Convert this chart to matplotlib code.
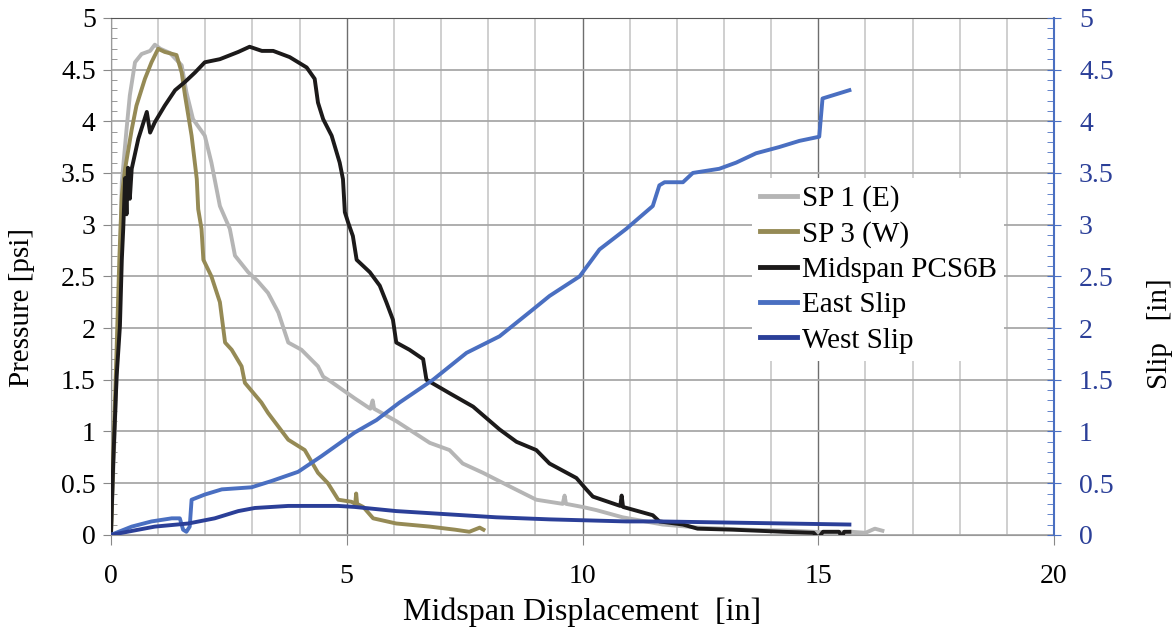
import matplotlib
matplotlib.use("Agg")
import matplotlib.pyplot as plt
from matplotlib.ticker import MultipleLocator, FuncFormatter
from matplotlib.lines import Line2D

plt.rcParams['font.family'] = ['Liberation Serif', 'DejaVu Serif']

# ---------------- data ----------------
sp1_x = [0, 0.08, 0.15, 0.19, 0.23, 0.33, 0.40, 0.51, 0.65, 0.83, 0.93, 1.05, 1.25, 1.50, 1.60, 1.74,
         1.99, 2.13, 2.31, 2.52, 2.63, 2.91, 3.10, 3.33, 3.55, 3.76, 4.04, 4.39, 4.50, 4.64, 5.17, 5.50,
         5.55, 5.58, 6.05, 6.76, 7.18, 7.46, 7.89, 8.45, 9.02, 9.58, 9.62, 9.65, 10.0, 10.29, 10.85,
         11.7, 12.48, 13.5, 14.5, 15.3, 15.7, 16.0, 16.2, 16.36]
sp1_y = [0, 1.0, 2.0, 2.6, 3.41, 3.92, 4.25, 4.57, 4.65, 4.68, 4.74, 4.70, 4.66, 4.54, 4.28, 4.02,
         3.86, 3.60, 3.18, 2.96, 2.70, 2.54, 2.46, 2.34, 2.15, 1.86, 1.79, 1.63, 1.53, 1.49, 1.32, 1.22,
         1.30, 1.22, 1.10, 0.89, 0.82, 0.69, 0.60, 0.47, 0.34, 0.30, 0.38, 0.30, 0.27, 0.24, 0.17,
         0.10, 0.07, 0.05, 0.04, 0.02, 0.03, 0.02, 0.06, 0.04]

sp3_x = [0, 0.05, 0.12, 0.18, 0.23, 0.30, 0.44, 0.54, 0.72, 0.86, 1.00, 1.14, 1.39, 1.50, 1.57, 1.71,
         1.82, 1.85, 1.92, 1.96, 2.13, 2.31, 2.42, 2.56, 2.77, 2.84, 3.19, 3.33, 3.76, 4.11, 4.39, 4.60,
         4.82, 5.10, 5.18, 5.20, 5.22, 5.35, 5.56, 6.05, 6.76, 7.3, 7.6, 7.82, 7.9]
sp3_y = [0, 0.8, 1.8, 2.7, 3.28, 3.54, 3.92, 4.15, 4.41, 4.57, 4.70, 4.67, 4.64, 4.47, 4.25, 3.86,
         3.44, 3.15, 2.96, 2.66, 2.50, 2.25, 1.86, 1.79, 1.63, 1.47, 1.28, 1.18, 0.92, 0.82, 0.60, 0.50,
         0.34, 0.32, 0.30, 0.40, 0.30, 0.27, 0.16, 0.11, 0.08, 0.05, 0.03, 0.07, 0.05]

mid_x = [0, 0.05, 0.12, 0.19, 0.23, 0.26, 0.30, 0.33, 0.36, 0.40, 0.44, 0.58, 0.76, 0.83, 0.93, 1.14,
         1.36, 1.57, 1.78, 1.99, 2.31, 2.70, 2.94, 3.20, 3.44, 3.79, 4.15, 4.32, 4.39, 4.50, 4.68, 4.85,
         4.92, 4.96, 5.03, 5.13, 5.21, 5.49, 5.70, 5.84, 5.98, 6.05, 6.33, 6.62, 6.69, 7.18, 7.68, 7.96,
         8.24, 8.60, 9.02, 9.30, 9.87, 10.08, 10.22, 10.80, 10.83, 10.86, 11.49, 11.63, 12.13, 12.44,
         13.2, 14.24, 14.9, 15.0, 15.1, 15.44, 15.5, 15.55, 15.66]
mid_y = [0, 0.73, 1.53, 2.02, 2.66, 2.96, 3.45, 3.10, 3.55, 3.25, 3.54, 3.83, 4.09, 3.89, 3.99, 4.15,
         4.30, 4.38, 4.47, 4.57, 4.60, 4.67, 4.72, 4.68, 4.68, 4.62, 4.52, 4.41, 4.18, 4.02, 3.86, 3.60,
         3.44, 3.12, 3.02, 2.89, 2.66, 2.54, 2.41, 2.25, 2.08, 1.86, 1.79, 1.70, 1.50, 1.37, 1.24, 1.13,
         1.02, 0.90, 0.82, 0.69, 0.55, 0.44, 0.37, 0.28, 0.38, 0.27, 0.19, 0.13, 0.10, 0.06,
         0.05, 0.03, 0.02, -0.03, 0.03, 0.03, -0.02, 0.03, 0.03]

east_x = [0, 0.44, 0.86, 1.29, 1.46, 1.53, 1.60, 1.67, 1.71, 1.99, 2.35, 2.98, 3.40, 3.97, 4.46, 5.17,
          5.63, 6.12, 6.83, 7.54, 8.24, 8.95, 9.30, 9.94, 10.36, 10.93, 11.49, 11.63, 11.74, 12.13,
          12.34, 12.90, 13.26, 13.68, 14.17, 14.60, 15.02, 15.09, 15.66]
east_y = [0, 0.08, 0.13, 0.16, 0.16, 0.05, 0.03, 0.08, 0.34, 0.39, 0.44, 0.46, 0.52, 0.61, 0.76, 0.99,
          1.11, 1.28, 1.50, 1.76, 1.92, 2.18, 2.31, 2.50, 2.76, 2.96, 3.18, 3.38, 3.41, 3.41,
          3.50, 3.54, 3.60, 3.69, 3.75, 3.81, 3.85, 4.22, 4.30]

west_x = [0, 0.93, 1.64, 2.20, 2.70, 3.05, 3.76, 4.82, 5.17, 6.05, 8.17, 9.30, 10.93, 11.63, 15.66]
west_y = [0, 0.08, 0.11, 0.16, 0.23, 0.26, 0.28, 0.28, 0.27, 0.23, 0.17, 0.15, 0.13, 0.13, 0.10]

labels = ["SP 1 (E)", "SP 3 (W)", "Midspan PCS6B", "East Slip", "West Slip"]
colors = ["#b5b5b5", "#958a55", "#1c1a1a", "#4a6fc1", "#2b3f98"]

# ---------------- figure ----------------
fig = plt.figure(figsize=(11.73, 6.36), dpi=100)
ax = fig.add_axes([0.0946, 0.159, 0.804, 0.813])
ax2 = ax.twinx()

ax.set_xlim(0, 20)
ax.set_ylim(0, 5)
ax2.set_ylim(0, 5)

lw = 2.8
ax.plot(sp1_x, sp1_y, color=colors[0], lw=lw, zorder=3)
ax.plot(sp3_x, sp3_y, color=colors[1], lw=lw, zorder=3)
ax.plot(mid_x, mid_y, color=colors[2], lw=lw, zorder=4)
ax2.plot(east_x, east_y, color=colors[3], lw=lw, zorder=3)
ax2.plot(west_x, west_y, color=colors[4], lw=lw, zorder=3)

# grid
ax.xaxis.set_major_locator(MultipleLocator(5))
ax.xaxis.set_minor_locator(MultipleLocator(1))
ax.yaxis.set_major_locator(MultipleLocator(0.5))
ax.yaxis.set_minor_locator(MultipleLocator(0.1))
ax.grid(which='minor', axis='x', color='#cccccc', lw=1.3)
ax.grid(which='major', axis='x', color='#6e6e6e', lw=1.0)
ax.grid(which='major', axis='y', color='#a8a8a8', lw=1.3)
ax.set_axisbelow(True)

fmt = FuncFormatter(lambda v, p: f"{v:g}")
ax.xaxis.set_major_formatter(fmt)
ax.yaxis.set_major_formatter(fmt)
ax.tick_params(axis='x', which='major', length=7, direction='out', color='#888888',
               labelsize=20, pad=14)
ax.tick_params(axis='x', which='minor', length=0)
ax.tick_params(axis='y', which='major', length=6, direction='out', color='#888888',
               labelsize=20, pad=5)
ax.tick_params(axis='y', which='minor', length=4, direction='in', color='#888888')

ax2.yaxis.set_major_locator(MultipleLocator(0.5))
ax2.yaxis.set_minor_locator(MultipleLocator(0.1))
ax2.yaxis.set_major_formatter(fmt)
ax2.tick_params(axis='y', which='major', length=10, direction='inout', color='#4a6fc1',
                labelsize=20, labelcolor='#2b3f98', pad=13)
ax2.tick_params(axis='y', which='minor', length=5, direction='in', color='#4a6fc1')

for s in ['left', 'bottom']:
    ax.spines[s].set_color('#999999')
ax.spines['top'].set_color('#555555')
ax.spines['right'].set_visible(False)
ax2.spines['right'].set_color('#4a6fc1')
ax2.spines['right'].set_linewidth(1.5)
for s in ['left', 'bottom', 'top']:
    ax2.spines[s].set_visible(False)

ax.set_xlabel("Midspan Displacement  [in]", fontsize=23, labelpad=6)
ax.set_ylabel("Pressure [psi]", fontsize=21, labelpad=19)
ax2.set_ylabel("Slip   [in]", fontsize=21, labelpad=24)
ax.yaxis.label.set_y(0.44)
ax2.yaxis.label.set_y(0.39)

handles = [Line2D([0], [0], color=c, lw=3.5) for c in colors]
leg = ax2.legend(handles, labels, loc='upper left', bbox_to_anchor=(0.680, 0.690),
                 frameon=True, fontsize=21, handlelength=1.3, handletextpad=0.15,
                 labelspacing=0.3, borderpad=0.25, borderaxespad=0)
leg.get_frame().set_edgecolor('none')
leg.get_frame().set_facecolor('white')
leg.get_frame().set_alpha(1)
leg.get_frame().set_boxstyle('square', pad=0)
leg.set_zorder(10)

fig.savefig("out.png", dpi=100)
